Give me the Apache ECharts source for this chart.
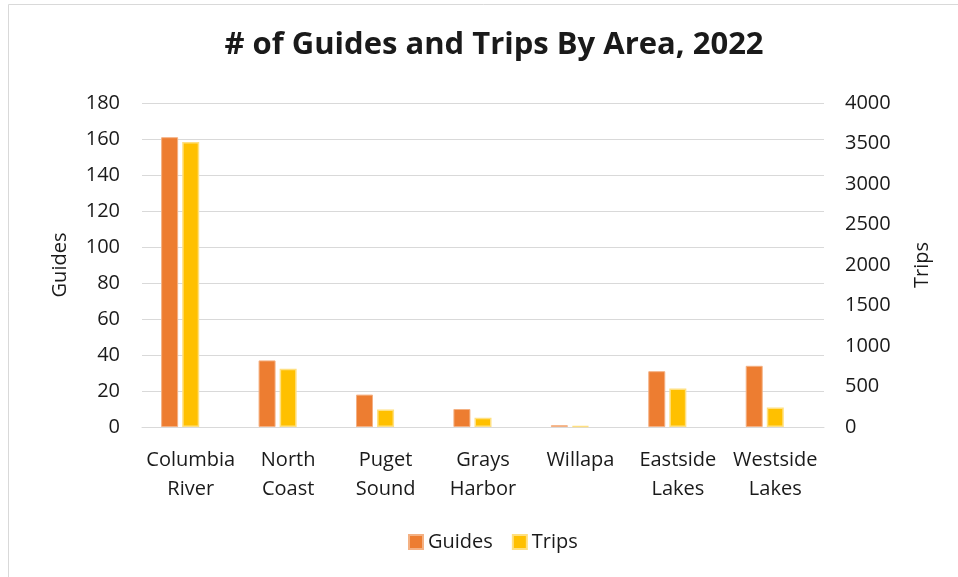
<!DOCTYPE html>
<html>
<head>
<meta charset="utf-8">
<script src="https://cdn.jsdelivr.net/npm/echarts@6/dist/echarts.min.js"></script>
<style>
  html, body { margin: 0; padding: 0; background: #fff; }
  #chart { width: 958px; height: 577px; }
</style>
</head>
<body>
<div id="chart"></div>
<script>
// Areas along the x axis
const areas = ['Columbia\nRiver', 'North\nCoast', 'Puget\nSound', 'Grays\nHarbor', 'Willapa', 'Eastside\nLakes', 'Westside\nLakes'];
// Number of guides per area (left axis)
const guides = [161, 37, 18, 10, 1, 31, 34];
// Number of trips per area (right axis)
const trips = [3520, 720, 215, 115, 10, 475, 240];
// Empty third slot that keeps each bar pair off-centre within its category
const spacer = ['-', '-', '-', '-', '-', '-', '-'];

const FONT = '"Open Sans", "Noto Sans", sans-serif';
const TEXT = '#1a1a1a';
const SIZE = 20;

const chart = echarts.init(document.getElementById('chart'), null, { renderer: 'canvas' });

chart.setOption({
  backgroundColor: '#ffffff',
  animation: false,
  textStyle: { fontFamily: FONT },
  graphic: [{
    type: 'rect',
    shape: { x: 8.5, y: 4.5, width: 980, height: 600 },
    style: { fill: 'none', stroke: '#d9d9d9', lineWidth: 1 },
    silent: true, z: -1
  }],
  title: {
    text: '# of Guides and Trips By Area, 2022',
    left: 489, top: 25, textAlign: 'center',
    textStyle: { fontFamily: FONT, fontSize: 31, fontWeight: 'bold', color: TEXT }
  },
  legend: {
    data: ['Guides', 'Trips'],
    bottom: 20, left: 403,
    icon: 'rect', itemWidth: 14, itemHeight: 14, itemGap: 19,
    textStyle: { fontFamily: FONT, fontSize: SIZE, color: TEXT, padding: [0, 0, 0, 0] }
  },
  grid: { left: 142, right: 134, top: 103, bottom: 150, containLabel: false },
  xAxis: {
    type: 'category',
    data: areas,
    axisLine: { lineStyle: { color: '#d9d9d9' } },
    axisTick: { show: false },
    axisLabel: { fontFamily: FONT, fontSize: SIZE, color: TEXT, lineHeight: 29, margin: 19, interval: 0 }
  },
  yAxis: [{
    type: 'value', min: 0, max: 180, interval: 20,
    name: 'Guides', nameLocation: 'middle', nameGap: 72, nameRotate: 90,
    nameTextStyle: { fontFamily: FONT, fontSize: SIZE, color: TEXT },
    axisLine: { show: false }, axisTick: { show: false },
    axisLabel: { fontFamily: FONT, fontSize: SIZE, color: TEXT, margin: 22 },
    splitLine: { lineStyle: { color: '#d9d9d9', width: 1 } }
  }, {
    type: 'value', min: 0, max: 4000, interval: 500,
    name: 'Trips', nameLocation: 'middle', nameGap: 88, nameRotate: 90,
    nameTextStyle: { fontFamily: FONT, fontSize: SIZE, color: TEXT },
    axisLine: { show: false }, axisTick: { show: false },
    axisLabel: { fontFamily: FONT, fontSize: SIZE, color: TEXT, margin: 21, formatter: v => String(v) },
    splitLine: { show: false }
  }],
  series: [{
    name: 'Guides', type: 'bar', yAxisIndex: 0, data: guides,
    barWidth: 17, barGap: '24%',
    itemStyle: { color: '#ED7D31', borderColor: '#F4B183', borderWidth: 1 }
  }, {
    name: 'Trips', type: 'bar', yAxisIndex: 1, data: trips,
    barWidth: 17, barGap: '24%',
    itemStyle: { color: '#FFC000', borderColor: '#FFE080', borderWidth: 1.5 }
  }, {
    name: 'spacer', type: 'bar', yAxisIndex: 0, data: spacer,
    barWidth: 17, barGap: '24%',
    itemStyle: { color: 'transparent' }, silent: true
  }]
});
</script>
</body>
</html>
